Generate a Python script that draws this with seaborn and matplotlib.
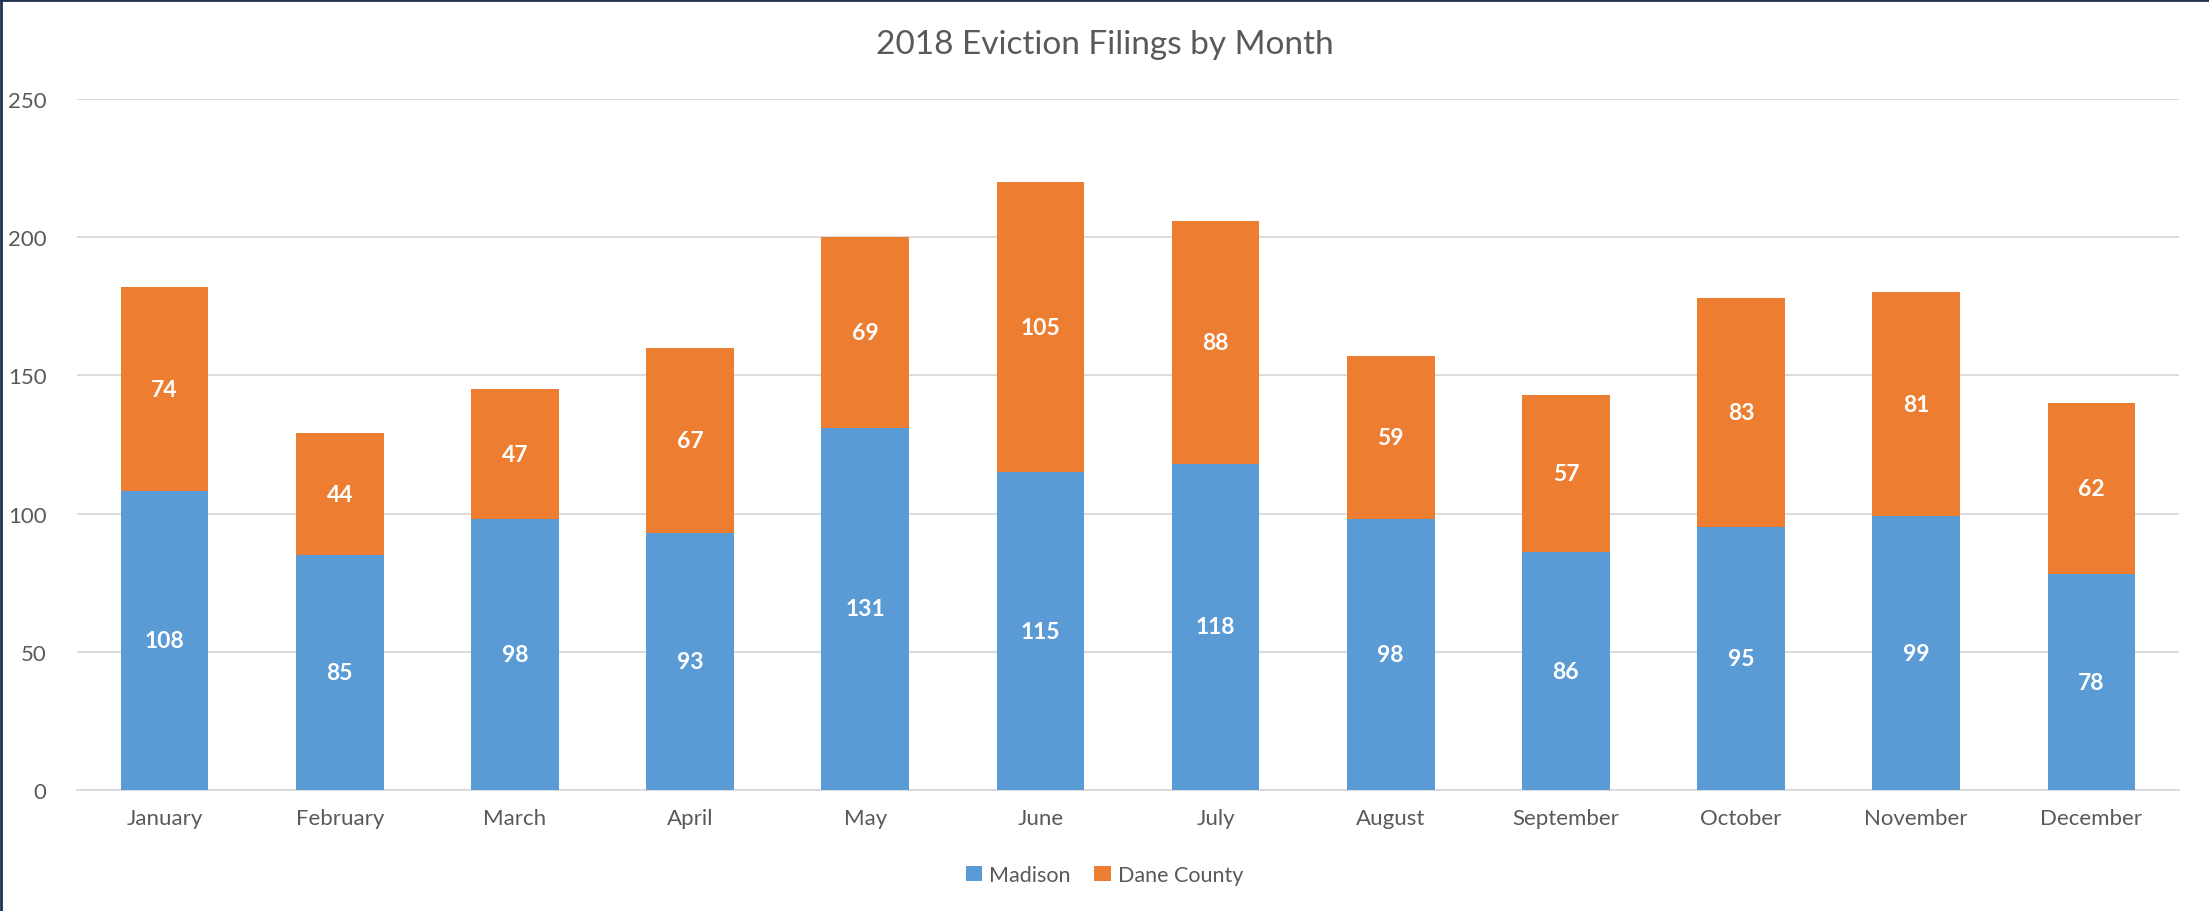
import matplotlib
matplotlib.use("Agg")
import matplotlib.pyplot as plt
import seaborn as sns
import pandas as pd
import numpy as np
from matplotlib.lines import Line2D
from matplotlib.patches import Patch

months = ["January", "February", "March", "April", "May", "June", "July",
          "August", "September", "October", "November", "December"]
madison = [108, 85, 98, 93, 131, 115, 118, 98, 86, 95, 99, 78]
dane_county = [74, 44, 47, 67, 69, 105, 88, 59, 57, 83, 81, 62]
y_ticks = [0, 50, 100, 150, 200, 250]

blue = "#5B9BD5"
orange = "#ED7D31"
text_col = "#595959"
grid_col = "#D9D9D9"

sns.set_theme(style="white")
plt.rcParams['font.family'] = ['Lato', 'DejaVu Sans']

df = pd.DataFrame({"Month": months, "Madison": madison, "Dane County": dane_county})
df["Total"] = df["Madison"] + df["Dane County"]

fig = plt.figure(figsize=(22.09, 9.12), dpi=100)
ax = fig.add_axes([77/2209, 1-791/912, (2179-77)/2209, (791-100)/912])

sns.barplot(data=df, x="Month", y="Total", color=orange, saturation=1, width=0.5, ax=ax,
            zorder=2, edgecolor="none", linewidth=0)
sns.barplot(data=df, x="Month", y="Madison", color=blue, saturation=1, width=0.5, ax=ax,
            zorder=3, edgecolor="none", linewidth=0)

for i in range(len(months)):
    ax.text(i, madison[i] / 2, str(madison[i]), ha="center", va="center",
            color="white", fontsize=16.5, fontweight="bold", zorder=5)
    ax.text(i, madison[i] + dane_county[i] / 2, str(dane_county[i]), ha="center", va="center",
            color="white", fontsize=16.5, fontweight="bold", zorder=5)

ax.set_ylim(0, 250)
ax.set_xlim(-0.5, len(months) - 0.5)
ax.set_yticks(y_ticks)
ax.set_yticklabels([str(v) for v in y_ticks])
ax.yaxis.grid(True, color=grid_col, linewidth=1.3, zorder=0)
ax.set_axisbelow(True)
ax.set_xlabel("")
ax.set_ylabel("")

for s in ["top", "right", "left"]:
    ax.spines[s].set_visible(False)
ax.spines["bottom"].set_color(grid_col)
ax.spines["bottom"].set_linewidth(1.3)

ax.tick_params(axis="y", length=0, pad=22, labelsize=16, labelcolor=text_col)
ax.tick_params(axis="x", which="major", length=0, pad=13, labelsize=16, labelcolor=text_col)
ax.set_xticks(np.arange(-0.5, len(months)), minor=True)
ax.tick_params(axis="x", which="minor", length=6, width=1.3, color=grid_col, direction="out")

fig.text(0.5, 1 - 45/912, "2018 Eviction Filings by Month", ha="center", va="center",
         fontsize=24, color=text_col)

handles = [Patch(facecolor=blue, edgecolor="none", label="Madison"),
           Patch(facecolor=orange, edgecolor="none", label="Dane County")]
fig.legend(handles=handles, loc="center", bbox_to_anchor=(0.5, 1 - 876/912), ncol=2,
           frameon=False, fontsize=15.5, labelcolor=text_col, handlelength=0.75,
           handleheight=0.75, handletextpad=0.35, columnspacing=1.1)

border = "#1F3050"
fig.add_artist(Line2D([0.0005, 0.0005], [0, 1], transform=fig.transFigure, color=border, linewidth=2))
fig.add_artist(Line2D([0, 1], [0.999, 0.999], transform=fig.transFigure, color=border, linewidth=2))

fig.savefig("out.png", dpi=100)
